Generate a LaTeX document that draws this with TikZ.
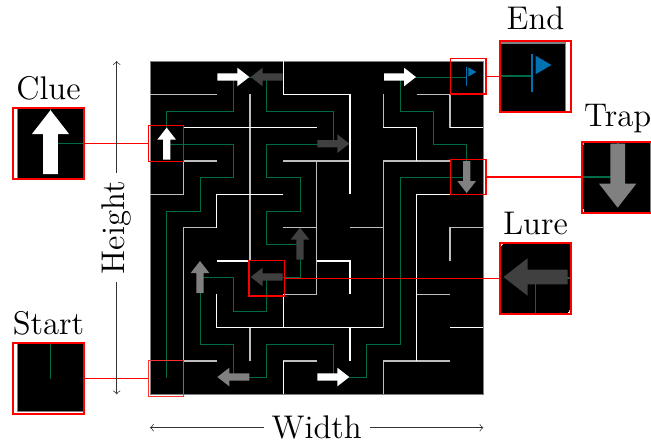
\documentclass[tikz,border=0pt]{standalone}
\definecolor{myroute}{RGB}{0,105,72}
\definecolor{myflag}{RGB}{0,114,178}
\definecolor{mywall}{RGB}{190,190,190}
\definecolor{mydark}{RGB}{64,64,64}
\definecolor{mygray}{RGB}{128,128,128}
\def\lw{0.5pt}
\tikzset{
    wallwhite/.style={draw=white, line width=\lw},
    wallgray/.style={draw=mywall, line width=\lw},
    route/.style={draw=myroute, line width=0.7*\lw},
    markbox/.style={draw=red, line width=0.5pt, minimum size=0.53cm, inner sep=0pt, outer sep=0pt},
    insetframe/.style={draw=red, line width=0.85pt, minimum size=1.065cm, inner sep=0pt, outer sep=0pt},
    zoomline/.style={draw=red, line width=0.45pt},
    dimline/.style={<->, >=to, line width=0.3pt, draw=black!80},
    tag/.style={font=\fontsize{14}{16}\selectfont}
}
% arrow glyph: column, row, angle, colour
\newcommand{\mazearrow}[4]{
    \fill[#4, shift={(#1+0.5,#2+0.48)}, rotate=#3] (-0.48,-0.11) -- (0.12,-0.11) -- (0.12,-0.28) -- (0.48,0) -- (0.12,0.28) -- (0.12,0.11) -- (-0.48,0.11) -- cycle;
}
\newcommand{\mazeitems}{
    \fill[black] (0,0) rectangle (10,10);
    \draw[draw=mygray, line width=0.45*\lw] (0,0) rectangle (10,10);
    % Light walls
    \draw[wallgray] (0,1) -- (2,1);
    \draw[wallgray] (3,1) -- (3,6);
    \draw[wallgray] (2,3) -- (1,3) -- (1,4) -- (0,4);
    \draw[wallgray] (2,5) -- (1,5) -- (1,9) -- (2,9);
    \draw[wallgray] (4,3) -- (6,3);
    \draw[wallgray] (5,3) -- (5,7) -- (4,7);
    \draw[wallgray] (4,5) -- (5,5);
    \draw[wallgray] (6,5) -- (7,5);
    \draw[wallgray] (3,8) -- (3,9);
    \draw[wallgray] (7,1) -- (7,2);
    \draw[wallgray] (9,3) -- (7,3) -- (7,8);
    \draw[wallgray] (8,1) -- (9,1) -- (9,2);
    \draw[wallgray] (8,7) -- (9,7);
    \draw[wallgray] (7,10) -- (7,9) -- (9,9);
    \draw[wallgray] (10,5) -- (9,5) -- (9,6);
    \draw[wallgray] (4,9) -- (5,9);
    % Bright walls
    \draw[wallwhite] (4,0) -- (4,1) -- (6,1) -- (6,4);
    \draw[wallwhite] (1,2) -- (5,2);
    \draw[wallwhite] (4,4) -- (2,4) -- (2,5);
    \draw[wallwhite] (7,2) -- (8,2) -- (8,3);
    \draw[wallwhite] (9,2) -- (10,2);
    \draw[wallwhite] (9,4) -- (8,4) -- (8,9);
    \draw[wallwhite] (5,6) -- (6,6) -- (6,7);
    \draw[wallwhite] (2,6) -- (3,6);
    \draw[wallwhite] (2,7) -- (2,8) -- (7,8);
    \draw[wallwhite] (4,7) -- (4,8);
    \draw[wallwhite] (6,8) -- (6,9);
    \draw[wallwhite] (9,8) -- (10,8);
    \draw[wallwhite] (4,9) -- (4,10);
    % Route from start to end
    \draw[route] (0.5,9.5) -- (0.5,4.5) -- (1.5,4.5) -- (1.5,3.5) -- (2.5,3.5) -- (2.5,2.5) -- (0.5,2.5) -- (0.5,1.5) -- (2.5,1.5) -- (2.5,0.5) -- (3.5,0.5) -- (3.5,1.5) -- (5.5,1.5) -- (5.5,2.5) -- (3.5,2.5) -- (3.5,3.5) -- (4.5,3.5) -- (4.5,4.5) -- (3.5,4.5) -- (3.5,5.5) -- (4.5,5.5) -- (4.5,6.5) -- (3.5,6.5) -- (3.5,7.5) -- (2.5,7.5) -- (2.5,6.5) -- (1.5,6.5) -- (1.5,8.5) -- (2.5,8.5) -- (2.5,9.5) -- (3.5,9.5) -- (3.5,8.5) -- (5.5,8.5) -- (5.5,9.5) -- (6.5,9.5) -- (6.5,8.5) -- (7.5,8.5) -- (7.5,3.5) -- (9.5,3.5) -- (9.5,2.5) -- (8.5,2.5) -- (8.5,1.5) -- (7.5,1.5) -- (7.5,0.5) -- (9.5,0.5);
    % Arrows
    \mazearrow{2}{0}{0}{white}
    \mazearrow{3}{0}{180}{mydark}
    \mazearrow{7}{0}{0}{white}
    \mazearrow{0}{2}{90}{white}
    \mazearrow{5}{2}{0}{mydark}
    \mazearrow{9}{3}{-90}{mygray}
    \mazearrow{4}{5}{90}{mydark}
    \mazearrow{3}{6}{180}{mydark}
    \mazearrow{1}{6}{90}{mygray}
    \mazearrow{2}{9}{180}{mygray}
    \mazearrow{5}{9}{0}{white}
    % Flag
    \draw[myflag, line width=\lw] (9.5,0.17) -- (9.5,0.74);
    \fill[myflag] (9.55,0.19) -- (9.79,0.33) -- (9.55,0.47) -- cycle;
}
% enlarged crop: centre in picture, centre in maze
\newcommand{\mazeinset}[4]{
    \begin{scope}
        \def\lw{1.1pt}
        \clip (#1-1.065,#2-1.065) rectangle (#1+1.065,#2+1.065);
        \begin{scope}[shift={(#1,#2)}, scale=2, shift={(-#3,-#4)}]
            \mazeitems
        \end{scope}
    \end{scope}
}
\begin{document}
\begin{tikzpicture}[x=0.5cm, y=-0.5cm]
    \useasboundingbox (-4.5,-1.83) rectangle (15.03,11.49);
    \mazeitems

    % Marked cells
    \node[markbox] (cluebox) at (0.48,2.475) {};
    \node[markbox] (endbox) at (9.55,0.46) {};
    \node[markbox] (trapbox) at (9.55,3.48) {};
    \node[markbox] (lurebox) at (3.5,6.52) {};
    \node[markbox, draw=red!80] (startbox) at (0.48,9.525) {};

    % Enlarged crops
    \mazeinset{-3.045}{2.475}{0.47}{2.5}
    \mazeinset{11.565}{0.46}{9.55}{0.5}
    \mazeinset{14.03}{3.48}{9.5}{3.5}
    \mazeinset{11.565}{6.52}{3.5}{6.5}
    \mazeinset{-3.045}{9.525}{0.47}{9.5}
    \node[insetframe] (clueframe) at (-3.045,2.475) {};
    \node[insetframe] (endframe) at (11.565,0.46) {};
    \node[insetframe] (trapframe) at (14.03,3.48) {};
    \node[insetframe] (lureframe) at (11.565,6.52) {};
    \node[insetframe] (startframe) at (-3.045,9.525) {};

    \draw[zoomline] (clueframe.east) -- (cluebox.west);
    \draw[zoomline] (endbox.east) -- (endframe.west);
    \draw[zoomline] (trapbox.east) -- (trapframe.west);
    \draw[zoomline] (lurebox.east) -- (lureframe.west);
    \draw[zoomline] (startframe.east) -- (startbox.west);

    \node[tag, above=0pt] (cluetag) at (clueframe.north) {Clue};
    \node[tag, above=1pt] (endtag) at (endframe.north) {End};
    \node[tag, above=0pt] (traptag) at (trapframe.north) {Trap};
    \node[tag, above=0pt] (luretag) at (lureframe.north) {Lure};
    \node[tag, above=0pt] (starttag) at (startframe.north) {Start};

    % Dimensions
    \coordinate (heighttop) at (-1,0);
    \coordinate (heightbot) at (-1,10);
    \coordinate (widthleft) at (0,11);
    \coordinate (widthright) at (10,11);
    \draw[dimline] (heighttop) -- node[tag, fill=white, rotate=90, inner ysep=0pt] (heighttag) {Height} (heightbot);
    \draw[dimline] (widthleft) -- node[tag, fill=white, inner ysep=0pt] (widthtag) {Width} (widthright);
\end{tikzpicture}
\end{document}
